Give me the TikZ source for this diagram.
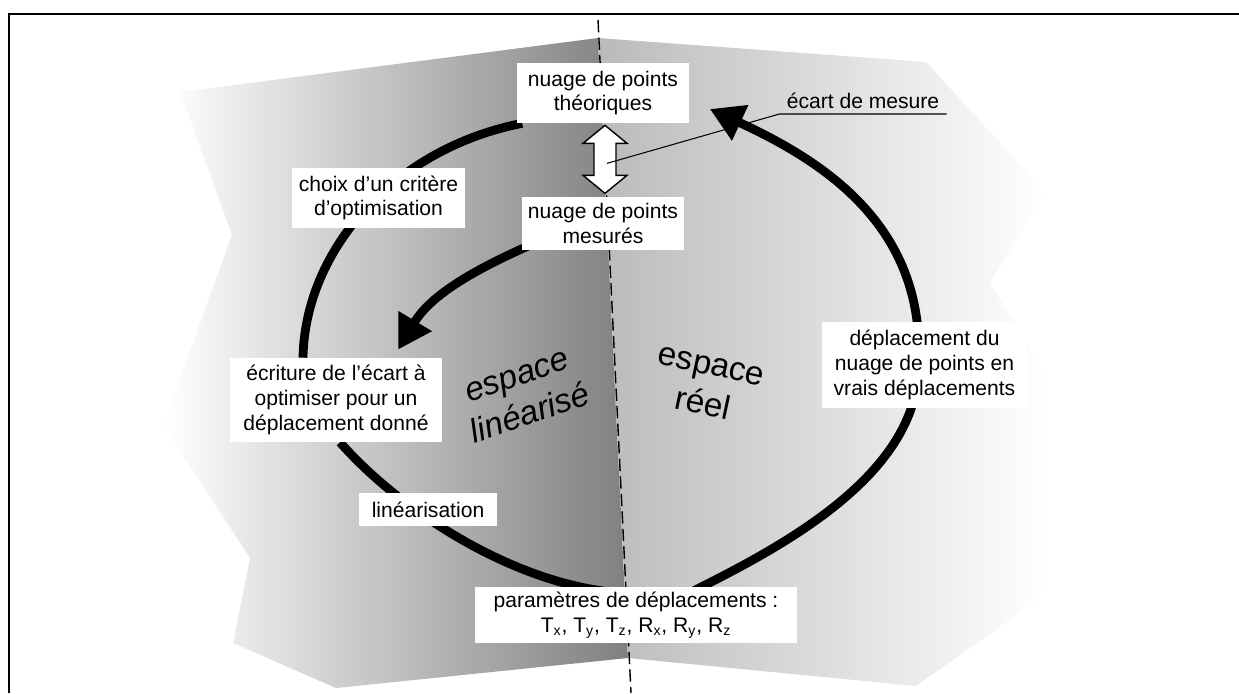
\documentclass[tikz,border=0pt]{standalone}
\usepackage{fontspec}
\setmainfont{Liberation Sans}
\usetikzlibrary{arrows.meta, calc, backgrounds}

\begin{document}
\begin{tikzpicture}[
    x=0.02cm, y=-0.02cm,
    txt/.style      = {fill=white, align=center, inner sep=0pt,
                       font=\fontsize{12}{14}\selectfont},
    spacelbl/.style = {align=center, inner sep=0pt,
                       font=\fontsize{19}{23}\selectfont},
    loopline/.style = {line width=5pt},
    looparrow/.style= {loopline, -{Triangle[length=19pt,width=21pt]}},
    divider/.style  = {line width=0.8pt, dash pattern=on 7pt off 3pt},
    hollow/.style   = {draw, fill=white, line width=0.8pt},
    leader/.style   = {line width=0.6pt},
    frame/.style    = {line width=1.2pt}
]
\useasboundingbox (0,0) rectangle (1239,693);

% ========= frame =========
\draw[frame] (9,693) -- (9,14) -- (1239,14);

% ========= text boxes =========
\node[txt, minimum width=3.46cm, minimum height=1.2cm]  (theo)     at (603,93)    {nuage de points\\théoriques};
\node[txt, minimum width=3.24cm, minimum height=1.06cm] (mes)      at (603,223.5) {nuage de points\\mesurés};
\node[txt, minimum width=3.46cm, minimum height=1.2cm]  (choix)    at (378.5,198) {choix d’un critère\\d’optimisation};
\node[txt, minimum width=4.24cm, minimum height=1.68cm] (ecriture) at (336,400)   {écriture de l’écart à\\optimiser pour un\\déplacement donné};
\node[txt, minimum width=2.76cm, minimum height=0.66cm] (lin)      at (428,509.5) {linéarisation};
\node[txt, minimum width=6.44cm, minimum height=1.12cm] (param)    at (636,615)   {paramètres de déplacements :\\T\textsubscript{x}, T\textsubscript{y}, T\textsubscript{z}, R\textsubscript{x}, R\textsubscript{y}, R\textsubscript{z}};
\node[txt, minimum width=4.1cm, minimum height=1.72cm]  (depl)     at (924.5,365) {déplacement du\\nuage de points en\\vrais déplacements};

% ========= space names =========
\node[spacelbl, font=\fontsize{19}{23}\selectfont\itshape, rotate=19] (linspace)  at (524,396) {espace\\linéarisé};
\node[spacelbl, rotate=-12]                                         (realspace) at (707,386) {espace\\réel};

% ========= measurement gap =========
\coordinate (gtop) at ($(theo.south)+(2,2)$);
\coordinate (gmid) at ($(gtop)+(2,38)$);
\draw[hollow] (gtop) -- ++(22,18) -- ++(-11,0) -- ++(0,32) -- ++(11,0)
      -- ++(-22,18) -- ++(-22,-18) -- ++(11,0) -- ++(0,-32) -- ++(-11,0) -- cycle;
\node[font=\fontsize{12}{14}\selectfont, inner xsep=4pt, inner ysep=3pt,
      anchor=south] (ecart) at (863,114) {écart de mesure};
\draw[leader] (gmid) -- (ecart.south west) -- (ecart.south east);

% ========= background halves and loop =========
\begin{scope}[on background layer]
  \shade[left color=white, right color=black!50]
    (180,92) -- (598,38) -- (628,658) -- (336,688) -- (233,643)
    -- (250,558) -- (163,425) -- (232,235) -- cycle;
  \shade[left color=black!27, right color=white]
    (598,38) -- (926,62) -- (1045,192) -- (990,283) -- (1045,372)
    -- (1045,595) -- (916,686) -- (628,658) -- cycle;
  \coordinate (dtop) at (598,20);
  \coordinate (dbot) at (631,693);
  \draw[divider] (dtop) -- (dbot);

  \draw[loopline] ($(theo.south west)+(6,0)$) .. controls +(-128,25) and +(2,-108) .. ($(ecriture.north)+(-33,0)$);
  \draw[loopline] ($(ecriture.south)+(4,0)$) .. controls +(60,68) and +(-100,-12) .. ($(param.north)+(-28,5)$);
  \draw[loopline] ($(param.north)+(56,5)$) .. controls +(90,-45) and +(0,110) .. ($(depl.center)+(-6,0)$);
  \draw[looparrow] ($(depl.center)+(-6,0)$) .. controls +(7,-135) and +(120,55) .. ($(theo.east)+(20,16)$);
  \draw[looparrow] ($(mes.south west)+(8,-5)$) .. controls +(-68,30) and +(30,-50) .. ($(ecriture.north)+(62,-8)$);
\end{scope}
\end{tikzpicture}
\end{document}
